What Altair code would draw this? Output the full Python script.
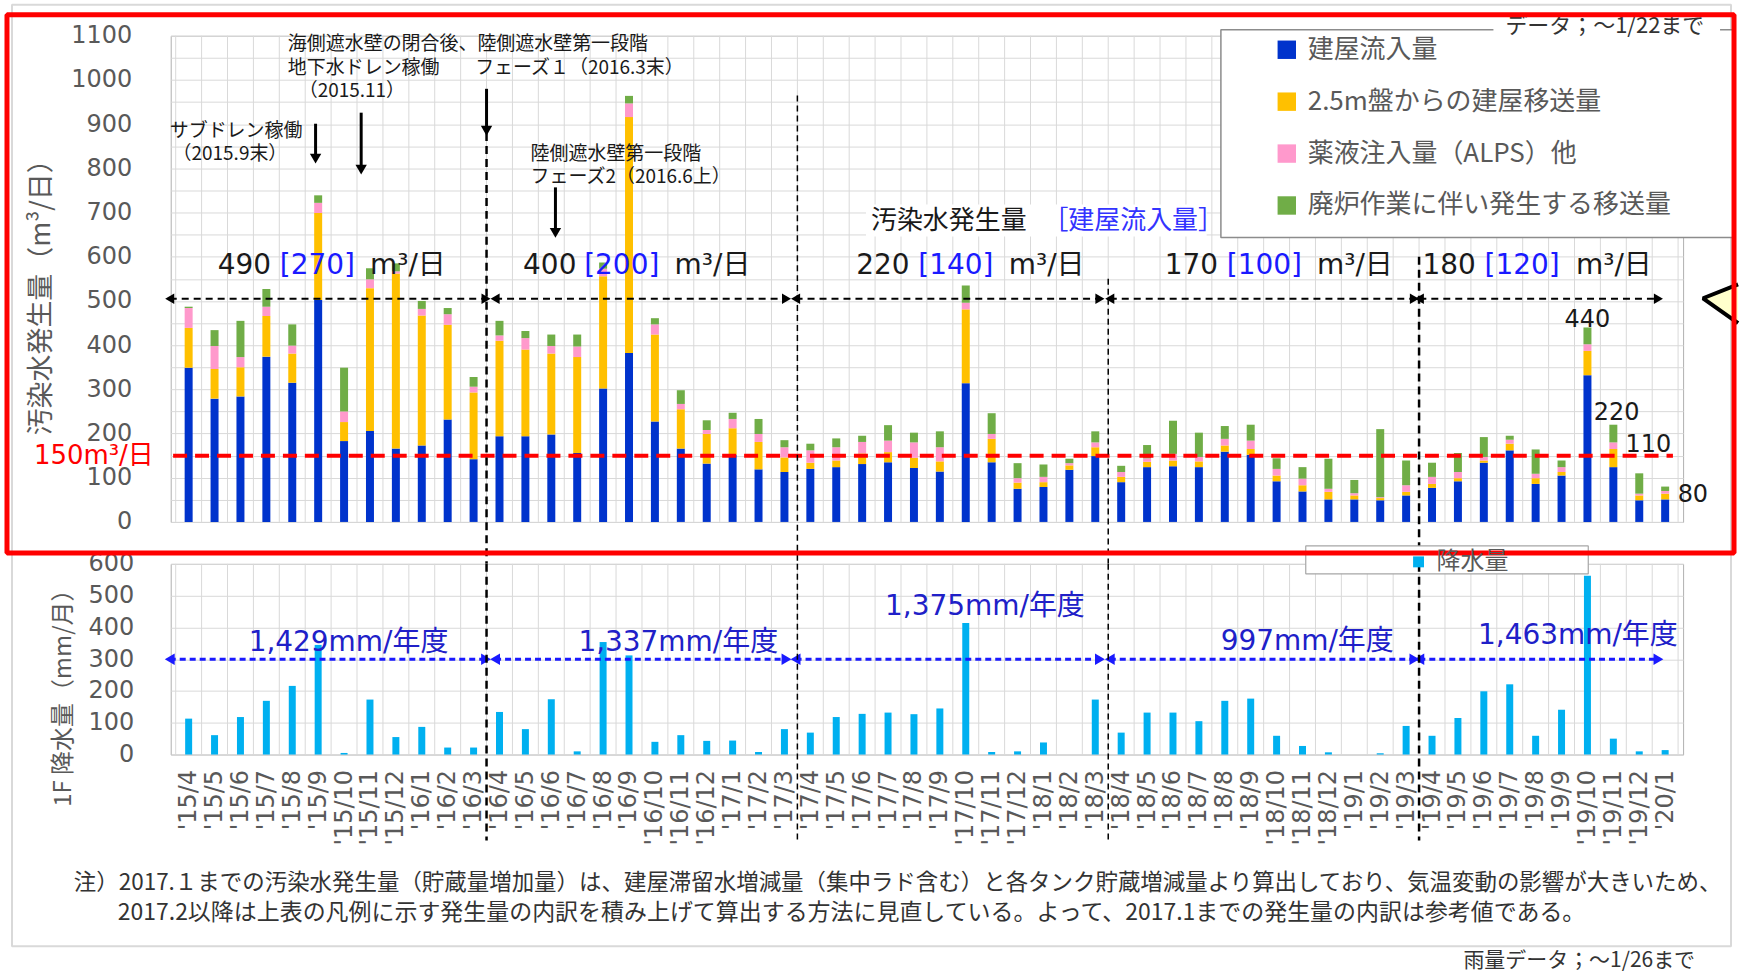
import json
import altair as alt
import pandas as pd

# ---- data -------------------------------------------------------------
months = [
    "'15/4", "'15/5", "'15/6", "'15/7", "'15/8", "'15/9", "'15/10", "'15/11", "'15/12", "'16/1", "'16/2", "'16/3",
    "'16/4", "'16/5", "'16/6", "'16/7", "'16/8", "'16/9", "'16/10", "'16/11", "'16/12", "'17/1", "'17/2", "'17/3",
    "'17/4", "'17/5", "'17/6", "'17/7", "'17/8", "'17/9", "'17/10", "'17/11", "'17/12", "'18/1", "'18/2", "'18/3",
    "'18/4", "'18/5", "'18/6", "'18/7", "'18/8", "'18/9", "'18/10", "'18/11", "'18/12", "'19/1", "'19/2", "'19/3",
    "'19/4", "'19/5", "'19/6", "'19/7", "'19/8", "'19/9", "'19/10", "'19/11", "'19/12", "'20/1",
]

# 建屋流入量
inflow = [349, 279, 284, 374, 315, 502, 183, 206, 166, 173, 232, 142,
          194, 194, 198, 156, 302, 382, 227, 166, 132, 152, 119, 113,
          120, 124, 131, 135, 122, 114, 314, 135, 75, 79, 118, 149,
          90, 124, 126, 124, 159, 152, 92, 69, 51, 51, 49, 60,
          77, 92, 134, 162, 86, 105, 332, 124, 49, 51]
# 2.5m盤からの建屋移送量
transfer = [90, 67, 66, 92, 66, 197, 43, 323, 396, 294, 214, 151,
            216, 196, 183, 217, 254, 534, 197, 89, 67, 60, 62, 33,
            14, 15, 24, 23, 23, 23, 167, 53, 14, 11, 10, 20,
            12, 12, 13, 13, 14, 13, 13, 14, 17, 9, 5, 8,
            9, 7, 5, 15, 13, 8, 55, 41, 11, 13]
# 薬液注入量（ALPS）他
chem = [45, 52, 23, 21, 18, 23, 24, 20, 5, 15, 24, 13,
        12, 26, 17, 24, 17, 31, 23, 12, 9, 21, 18, 23,
        28, 30, 26, 26, 35, 32, 15, 11, 10, 12, 5, 11,
        11, 8, 15, 10, 15, 19, 15, 15, 7, 5, 2, 15,
        16, 14, 8, 9, 10, 11, 15, 15, 4, 6]
# 廃炉作業に伴い発生する移送量
decom = [3, 36, 82, 40, 48, 17, 99, 25, 18, 18, 14, 22,
         33, 16, 26, 27, 14, 17, 14, 31, 22, 14, 34, 16,
         15, 20, 14, 35, 22, 36, 39, 47, 34, 28, 10, 25,
         14, 30, 75, 55, 29, 36, 24, 26, 68, 30, 154, 56,
         32, 43, 45, 9, 55, 15, 38, 40, 46, 10]
# 1F 降水量 (mm/月)
rain = [113, 61, 118, 169, 216, 345, 5, 173, 55, 87, 22, 22,
        134, 80, 174, 10, 354, 312, 40, 61, 43, 44, 8, 80,
        69, 118, 128, 132, 127, 145, 414, 8, 10, 38, 0, 173,
        69, 132, 132, 105, 169, 176, 59, 27, 7, 0, 4, 90,
        59, 115, 199, 221, 59, 141, 563, 50, 10, 14]

series_names = ["建屋流入量", "2.5m盤からの建屋移送量", "薬液注入量（ALPS）他", "廃炉作業に伴い発生する移送量"]
series_colors = ["#0033cc", "#ffc000", "#ff99cc", "#70ad47"]

period_total = ["490", "400", "220", "170", "180"]
period_inflow = ["[270]", "[200]", "[140]", "[100]", "[120]"]
rain_total = ["1,429mm/年度", "1,337mm/年度", "1,375mm/年度", "997mm/年度", "1,463mm/年度"]

# ---- layout -----------------------------------------------------------
W, H1, H2, GAP = 1515, 487, 191, 42
LEFT, TOP = 170, 34
PAGE_W, PAGE_H = 1741, 972
JP = "Noto Sans CJK JP"
NUM = "DejaVu Sans"
MIX = "DejaVu Sans, 'Noto Sans CJK JP'"
GRAY = "#595959"

x_scale = alt.Scale(domain=[-0.5, 57.5], nice=False, zero=False)
y1_scale = alt.Scale(domain=[0, 1100], nice=False)
y2_scale = alt.Scale(domain=[0, 600], nice=False)

upper_y_axis = alt.Axis(
    values=list(range(0, 1101, 50)), format="d",
    labelExpr="datum.value % 100 == 0 ? datum.label : ''",
    title="汚染水発生量（m³/日）", titleFont=JP, titleFontSize=27,
    titleFontWeight="normal", titleColor=GRAY, titleAngle=270,
    titleX=-129, titleY=255, titleAlign="center", titleBaseline="middle",
    labelFont=NUM, labelFontSize=24, labelColor=GRAY, labelPadding=39, labelOverlap=False,
    ticks=False, domain=False, grid=True, gridColor="#d9d9d9", gridWidth=1)

lower_x_axis = alt.Axis(
    values=list(range(len(months))), labelExpr=f"{json.dumps(months)}[datum.value]",
    labelAngle=270, labelAlign="right", labelBaseline="middle", labelPadding=15,
    labelFont=NUM, labelFontSize=24, labelColor=GRAY, labelOverlap=False,
    labelFlush=False, ticks=False, domain=False, grid=False, title=None)

lower_y_axis = alt.Axis(
    values=list(range(0, 601, 100)), format="d",
    title="1F 降水量（mm/月）", titleFont=JP, titleFontSize=24,
    titleFontWeight="normal", titleColor=GRAY, titleAngle=270,
    titleX=-107, titleY=128, titleAlign="center", titleBaseline="middle",
    labelFont=NUM, labelFontSize=24, labelColor=GRAY, labelPadding=37, labelOverlap=False,
    ticks=False, domain=False, grid=True, gridColor="#d9d9d9", gridWidth=1)

one = pd.DataFrame({"a": [0]})
n = len(months)
boundaries = pd.DataFrame({"b": [k - 0.5 for k in range(n + 1)]})


def px_rect(x, x2, y, y2, **kw):
    return alt.Chart(one).mark_rect(**kw).encode(
        x=alt.value(x), x2=alt.value(x2), y=alt.value(y), y2=alt.value(y2))


def px_text(txt, x, y, **kw):
    return alt.Chart(one).mark_text(**kw).encode(
        x=alt.value(x), y=alt.value(y), text=alt.value(txt))


def X1(field):
    return alt.X(field, scale=x_scale, axis=None)


def X2(field):
    return alt.X(field, scale=x_scale, axis=lower_x_axis)


def Y1(field, **kw):
    return alt.Y(field, scale=y1_scale, axis=upper_y_axis, **kw)


def Y2(field):
    return alt.Y(field, scale=y2_scale, axis=lower_y_axis)


stack_rows = []
for k, vals in enumerate([inflow, transfer, chem, decom]):
    for i, v in enumerate(vals):
        stack_rows.append({"i": i, "k": k, "series": series_names[k], "value": v})
df_stack = pd.DataFrame(stack_rows)
df_rain = pd.DataFrame({"i": list(range(n)), "rain": rain, "s": ["降水量"] * n})

# fiscal-year spans (month index units)
arrows = pd.DataFrame({
    "start": [-0.73, 11.83, 23.43, 35.56, 47.51],
    "end": [11.48, 23.08, 35.18, 47.32, 56.74],
})

# ---- upper panel ------------------------------------------------------
# transparent sheet covering the whole page, so the drawing starts at its corner
canvas = px_rect(-LEFT, PAGE_W - LEFT, -TOP, PAGE_H - TOP, fill="white", fillOpacity=0, strokeWidth=0)
page_frame = px_rect(11 - LEFT, 1733 - LEFT, 3 - TOP, 946 - TOP,
                     fillOpacity=0, stroke="#d9d9d9", strokeWidth=2, strokeJoin="bevel")

vgrid1 = alt.Chart(boundaries).mark_rule(color="#d9d9d9", strokeWidth=1).encode(
    x=X1("b:Q"), y=alt.value(0), y2=alt.value(H1))

bars = alt.Chart(df_stack).mark_bar(size=8, orient="vertical").encode(
    x=X1("i:Q"),
    y=Y1("value:Q", stack="zero"),
    color=alt.Color("series:N", scale=alt.Scale(domain=series_names, range=series_colors),
                    legend=alt.Legend(orient="none", legendX=1105, legendY=1, title=None,
                                      labelFont=JP, labelFontSize=26, labelColor=GRAY,
                                      symbolType="square", symbolSize=340, symbolStrokeWidth=0,
                                      rowPadding=26, labelLimit=600, labelOffset=8, padding=0,
                                      direction="vertical")),
    order=alt.Order("k:Q", sort="ascending"),
)

target = alt.Chart(pd.DataFrame({"x1": [-0.6], "x2": [57.3], "v": [150]})).mark_rule(
    color="#ff0000", strokeWidth=4, strokeDash=[14, 8]).encode(x=X1("x1:Q"), x2="x2:Q", y=Y1("v:Q"))
target_label = alt.Chart(pd.DataFrame({"v": [150]})).mark_text(
    font=MIX, fontSize=26, color="#ff0000", align="left", baseline="middle").encode(
    x=alt.value(-137), y=Y1("v:Q"), text=alt.value("150m³/日"))

span_y = pd.DataFrame({"start": arrows["start"], "end": arrows["end"], "v": [505] * 5})
span_lines = alt.Chart(span_y).mark_rule(color="black", strokeWidth=2, strokeDash=[7, 5]).encode(
    x=X1("start:Q"), x2="end:Q", y=Y1("v:Q"))
span_left = alt.Chart(span_y).mark_point(shape="triangle-left", filled=True, size=110, color="black",
                                         opacity=1).encode(x=X1("start:Q"), y=Y1("v:Q"))
span_right = alt.Chart(span_y).mark_point(shape="triangle-right", filled=True, size=110, color="black",
                                          opacity=1).encode(x=X1("end:Q"), y=Y1("v:Q"))

dividers = pd.DataFrame({"b": [11.5, 23.5, 35.5, 47.5], "top": [880, 965, 550, 600],
                         "bold": [1, 0, 0, 1]})
div_bold1 = alt.Chart(dividers[dividers.bold == 1]).mark_rule(
    color="black", strokeWidth=2.5, strokeDash=[8, 5]).encode(
    x=X1("b:Q"), y=Y1("top:Q"), y2=alt.value(H1 + GAP))
div_thin1 = alt.Chart(dividers[dividers.bold == 0]).mark_rule(
    color="black", strokeWidth=1.5, strokeDash=[6, 4]).encode(
    x=X1("b:Q"), y=Y1("top:Q"), y2=alt.value(H1 + GAP))

events = pd.DataFrame({"x": [4.9, 6.66, 11.5, 14.16], "top": [901, 926, 980, 757],
                       "bottom": [809, 784, 872, 641]})
events["shaft_end"] = events["bottom"] + 14
events["head"] = events["bottom"] + 13
event_shafts = alt.Chart(events).mark_rule(color="black", strokeWidth=3).encode(
    x=X1("x:Q"), y=Y1("top:Q"), y2="shaft_end:Q")
event_heads = alt.Chart(events).mark_point(shape="triangle-down", filled=True, size=130,
                                           color="black", opacity=1).encode(x=X1("x:Q"), y=Y1("head:Q"))

notes = pd.DataFrame({
    "t": ["サブドレン稼働", "（2015.9末）", "海側遮水壁の閉合後、陸側遮水壁第一段階", "地下水ドレン稼働",
          "フェーズ１（2016.3末）", "（2015.11）", "陸側遮水壁第一段階", "フェーズ2（2016.6上）"],
    "x": [-0.73, -0.62, 3.83, 3.83, 11.06, 4.25, 13.2, 13.2],
    "v": [885, 833, 1082, 1028, 1028, 976, 833, 781],
})
note_text = alt.Chart(notes).mark_text(font=JP, fontSize=19, color="#1a1a1a", align="left",
                                       baseline="middle").encode(x=X1("x:Q"), y=Y1("v:Q"), text="t:N")

periods = pd.DataFrame({
    "total": period_total, "inflow": period_inflow,
    "x_num": [3.18, 14.97, 27.83, 39.74, 49.69],
    "x_br": [3.52, 15.27, 28.17, 40.08, 50.03],
    "x_unit": [7.0, 18.76, 31.66, 43.56, 53.56],
    "v": [580] * 5,
})
per_num = alt.Chart(periods).mark_text(font=NUM, fontSize=28, color="#1a1a1a", align="right",
                                       baseline="middle").encode(x=X1("x_num:Q"), y=Y1("v:Q"), text="total:N")
per_br = alt.Chart(periods).mark_text(font=NUM, fontSize=28, color="#1a1aff", align="left",
                                      baseline="middle").encode(x=X1("x_br:Q"), y=Y1("v:Q"), text="inflow:N")
per_unit = alt.Chart(periods).mark_text(font=MIX, fontSize=28, color="#1a1a1a", align="left",
                                        baseline="middle").encode(x=X1("x_unit:Q"), y=Y1("v:Q"),
                                                                  text=alt.value("m³/日"))

head_bg = alt.Chart(pd.DataFrame({"x1": [26.15], "x2": [39.3], "y1": [646], "y2": [718]})).mark_rect(
    fill="white").encode(x=X1("x1:Q"), x2="x2:Q", y=Y1("y1:Q"), y2="y2:Q")
head_a = alt.Chart(pd.DataFrame({"x": [26.34], "v": [682]})).mark_text(
    font=JP, fontSize=26, color="#1a1a1a", align="left", baseline="middle").encode(
    x=X1("x:Q"), y=Y1("v:Q"), text=alt.value("汚染水発生量"))
head_b = alt.Chart(pd.DataFrame({"x": [32.96], "v": [682]})).mark_text(
    font=JP, fontSize=26, color="#3333ff", align="left", baseline="middle").encode(
    x=X1("x:Q"), y=Y1("v:Q"), text=alt.value("［建屋流入量］"))

legend_box = px_rect(1052, 1566, -6, 202, fill="white", stroke="#8c8c8c", strokeWidth=1.5,
                     strokeJoin="bevel")
data_note_bg = px_rect(1325, 1552, -12, 0, fill="white", strokeWidth=0)
data_note = px_text("データ；～1/22まで", 1337, -10, font=JP, fontSize=22, color="#333333",
                    align="left", baseline="middle")

callouts = pd.DataFrame({"x": [54.0, 55.13, 56.35, 58.07], "v": [456, 246, 174, 61],
                         "t": ["440", "220", "110", "80"]})
callout_text = alt.Chart(callouts).mark_text(font=NUM, fontSize=24, color="#1a1a1a", align="center",
                                             baseline="middle").encode(x=X1("x:Q"), y=Y1("v:Q"), text="t:N")

upper = alt.layer(
    canvas, page_frame, vgrid1, bars, target, target_label,
    span_lines, span_left, span_right, div_bold1, div_thin1,
    event_shafts, event_heads, note_text, per_num, per_br, per_unit,
    head_bg, head_a, head_b, legend_box, data_note_bg, data_note, callout_text,
).properties(width=W, height=H1)

# ---- lower panel ------------------------------------------------------
vgrid2 = alt.Chart(boundaries).mark_rule(color="#d9d9d9", strokeWidth=1).encode(
    x=X2("b:Q"), y=alt.value(0), y2=alt.value(H2))

rain_legend_box = px_rect(1137, 1420, -18, 10, fill="white", stroke="#a6a6a6", strokeWidth=1.2,
                          strokeJoin="bevel")

rain_bars = alt.Chart(df_rain).mark_bar(size=7, orient="vertical").encode(
    x=X2("i:Q"),
    y=Y2("rain:Q"),
    color=alt.Color("s:N", scale=alt.Scale(domain=["降水量"], range=["#00b0f0"]),
                    legend=alt.Legend(orient="none", legendX=1238, legendY=-14, title=None,
                                      labelFont=JP, labelFontSize=24, labelColor=GRAY,
                                      symbolType="square", symbolSize=120, symbolStrokeWidth=0,
                                      labelOffset=6, padding=0)),
)

rain_span = pd.DataFrame({"start": arrows["start"], "end": arrows["end"], "v": [300] * 5})
rain_lines = alt.Chart(rain_span).mark_rule(color="#1a1aff", strokeWidth=3, strokeDash=[6, 4]).encode(
    x=X2("start:Q"), x2="end:Q", y=Y2("v:Q"))
rain_left = alt.Chart(rain_span).mark_point(shape="triangle-left", filled=True, size=130, color="#1a1aff",
                                            opacity=1).encode(x=X2("start:Q"), y=Y2("v:Q"))
rain_right = alt.Chart(rain_span).mark_point(shape="triangle-right", filled=True, size=130, color="#1a1aff",
                                             opacity=1).encode(x=X2("end:Q"), y=Y2("v:Q"))

rain_labels = pd.DataFrame({"t": rain_total, "x": [6.17, 18.9, 30.74, 43.18, 53.63],
                            "v": [352, 352, 465, 355, 374]})
rain_text = alt.Chart(rain_labels).mark_text(font=MIX, fontSize=28, color="#2020c8", align="center",
                                             baseline="middle").encode(x=X2("x:Q"), y=Y2("v:Q"), text="t:N")

div_bold2 = alt.Chart(dividers[dividers.bold == 1]).mark_rule(
    color="black", strokeWidth=2.5, strokeDash=[8, 5]).encode(
    x=X2("b:Q"), y=alt.value(0), y2=alt.value(H2 + 86))
div_thin2 = alt.Chart(dividers[dividers.bold == 0]).mark_rule(
    color="black", strokeWidth=1.5, strokeDash=[6, 4]).encode(
    x=X2("b:Q"), y=alt.value(0), y2=alt.value(H2 + 86))

foot1 = px_text("注）2017.１までの汚染水発生量（貯蔵量増加量）は、建屋滞留水増減量（集中ラド含む）と各タンク貯蔵増減量より算出しており、気温変動の影響が大きいため、",
                -97, 320, font=JP, fontSize=22.5, color="#333333", align="left", baseline="middle")
foot2 = px_text("2017.2以降は上表の凡例に示す発生量の内訳を積み上げて算出する方法に見直している。よって、2017.1までの発生量の内訳は参考値である。",
                -53, 350, font=JP, fontSize=23, color="#333333", align="left", baseline="middle")
rain_note = px_text("雨量データ；～1/26まで", 1527, 398, font=JP, fontSize=21, color="#333333",
                    align="right", baseline="middle")

# speech-bubble pointer peeking in at the right edge of the page
pointer = alt.Chart(one).mark_point(shape="M 1.17 -0.94 L -0.78 -0.17 L 1.17 1.22", size=1296, filled=True,
                                    fill="#ffffcc", stroke="black", strokeWidth=4, opacity=1,
                                    fillOpacity=1, strokeJoin="bevel").encode(
    x=alt.value(1549), y=alt.value(-263))
red_frame = px_rect(-164, 1566, -550, -11, fillOpacity=0, stroke="#ff0000", strokeWidth=5,
                    strokeJoin="bevel")

lower = alt.layer(
    vgrid2, rain_legend_box, rain_bars, rain_lines, rain_left, rain_right, rain_text,
    div_bold2, div_thin2, foot1, foot2, rain_note, pointer, red_frame,
).properties(width=W, height=H2)

chart = alt.vconcat(upper, lower, spacing=GAP, bounds="flush").resolve_scale(
    x="independent", y="independent", color="independent"
).properties(padding=0, background="white").configure_view(stroke="#b0b0b0", strokeWidth=1)

chart.save("out.html", embed_options={"renderer": "svg", "actions": False})
